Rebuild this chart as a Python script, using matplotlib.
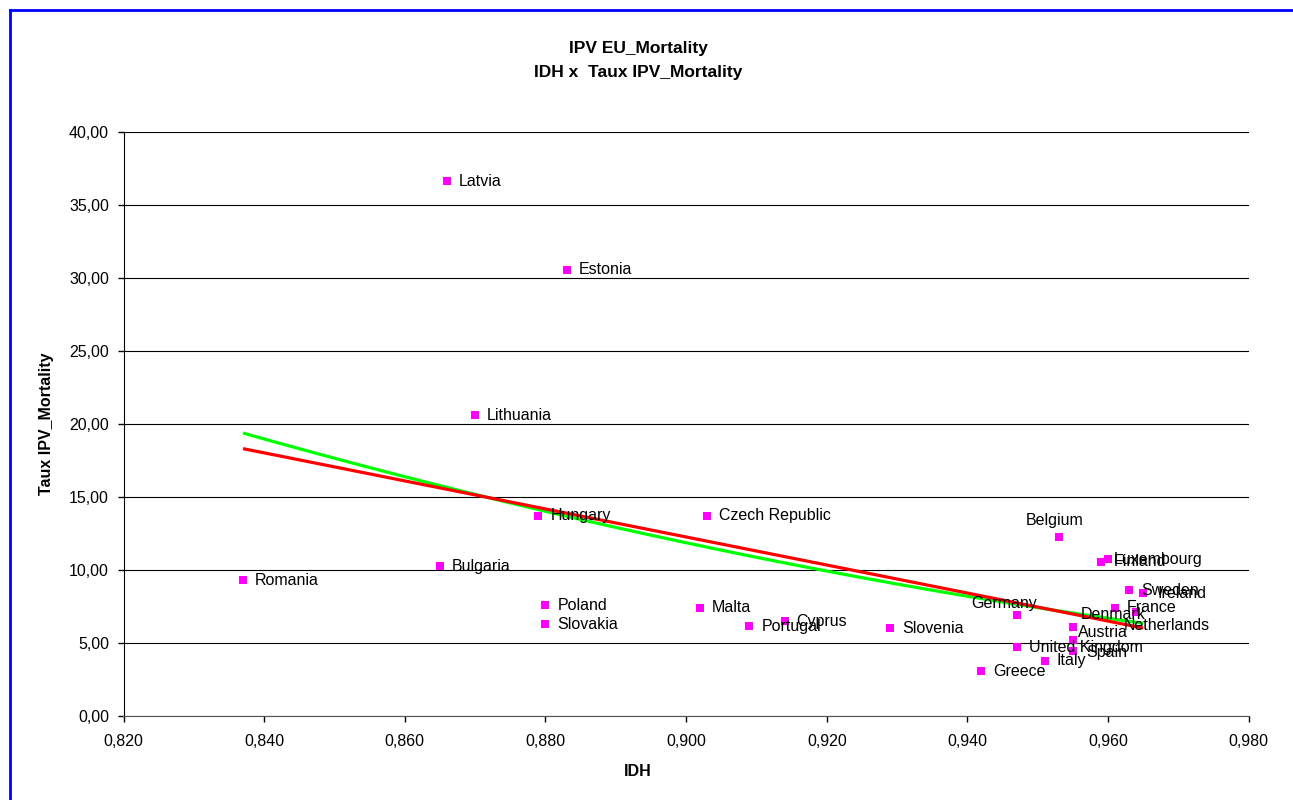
import numpy as np
import matplotlib
matplotlib.use("Agg")
import matplotlib.pyplot as plt
from matplotlib.ticker import FuncFormatter, MultipleLocator
from matplotlib.lines import Line2D

plt.rcParams['font.family'] = ['Liberation Sans', 'DejaVu Sans']

countries = ["Romania", "Bulgaria", "Latvia", "Lithuania", "Estonia", "Hungary",
             "Poland", "Slovakia", "Malta", "Czech Republic", "Portugal", "Cyprus",
             "Slovenia", "Greece", "Germany", "United Kingdom", "Italy", "Belgium",
             "Denmark", "Austria", "Spain", "Finland", "Luxembourg", "France",
             "Sweden", "Netherlands", "Ireland"]
idh = [0.837, 0.865, 0.866, 0.870, 0.883, 0.879,
       0.880, 0.880, 0.902, 0.903, 0.909, 0.914,
       0.929, 0.942, 0.947, 0.947, 0.951, 0.953,
       0.955, 0.955, 0.955, 0.959, 0.960, 0.961,
       0.963, 0.964, 0.965]
taux = [9.30, 10.27, 36.64, 20.60, 30.55, 13.70,
        7.60, 6.30, 7.40, 13.70, 6.16, 6.50,
        6.00, 3.08, 6.90, 4.70, 3.80, 12.26,
        6.10, 5.20, 4.45, 10.55, 10.75, 7.40,
        8.63, 7.10, 8.42]

title_lines = ["IPV EU_Mortality", "IDH x  Taux IPV_Mortality"]
x_title = "IDH"
y_title = "Taux IPV_Mortality"

# label placement (pixel offsets, styling only)
default_off = (12, 0, 'left')
label_off = {
    "Belgium": (-4, 17, 'center'),
    "Germany": (-13, 12, 'center'),
    "Denmark": (8, 12, 'left'),
    "Austria": (5, 8, 'left'),
    "Spain": (13, -1, 'left'),
    "Netherlands": (-12, -13, 'left'),
    "Luxembourg": (6, 0, 'left'),
    "Finland": (13, 0, 'left'),
    "Ireland": (14, 0, 'left'),
}

W, H = 1293, 800
fig = plt.figure(figsize=(W / 100, H / 100), dpi=100)
ax = fig.add_axes([123.5 / W, 1 - 716 / H, (1248.7 - 123.5) / W, (716 - 132) / H])

x = np.array(idh)
y = np.array(taux)
xs = np.linspace(x.min(), x.max(), 200)

# polynomial (order 2) trend (green)
ax.plot(xs, np.polyval(np.polyfit(x, y, 2), xs), color='#00FF00', lw=2.3, zorder=3,
        solid_capstyle='butt')
# linear trend (red)
ax.plot(xs, np.polyval(np.polyfit(x, y, 1), xs), color='#FF0000', lw=2.3, zorder=4,
        solid_capstyle='butt')

ax.scatter(x, y, marker='s', s=36, color='#FF00FF', zorder=5, linewidths=0)

for name, xi, yi in zip(countries, idh, taux):
    dx, dy, ha = label_off.get(name, default_off)
    ax.annotate(name, (xi, yi), xytext=(dx * 0.72, dy * 0.72), textcoords='offset points',
                ha=ha, va='center', fontsize=11.5, color='black', zorder=6)

ax.set_xlim(0.82, 0.98)
ax.set_ylim(0, 40)
ax.xaxis.set_major_locator(MultipleLocator(0.02))
ax.yaxis.set_major_locator(MultipleLocator(5))
ax.xaxis.set_major_formatter(FuncFormatter(lambda v, p: f"{v:.3f}".replace('.', ',')))
ax.yaxis.set_major_formatter(FuncFormatter(lambda v, p: f"{v:.2f}".replace('.', ',')))
ax.tick_params(axis='both', direction='out', length=4, width=1, labelsize=11.5, colors='black')
ax.tick_params(axis='y', pad=6.5)
ax.tick_params(axis='x', pad=9)
ax.grid(axis='y', color='black', lw=0.8)
ax.set_axisbelow(True)
for s in ['top', 'right']:
    ax.spines[s].set_visible(False)
ax.spines['left'].set_color('black')
ax.spines['bottom'].set_color('#555555')

fig.text(638 / W, 1 - 48 / H, title_lines[0], ha='center', va='center', fontsize=12.5, fontweight='bold')
fig.text(638 / W, 1 - 72 / H, title_lines[1], ha='center', va='center', fontsize=12.5, fontweight='bold')
fig.text(638 / W, 1 - 772 / H, x_title, ha='center', va='center', fontsize=11.5, fontweight='bold')
fig.text(47 / W, 1 - 424 / H, y_title, ha='center', va='center', rotation=90, fontsize=11.5, fontweight='bold')

# blue frame (top and left visible)
fig.add_artist(Line2D([10 / W, 1.0], [1 - 10 / H, 1 - 10 / H], color='#0000FF', lw=2, transform=fig.transFigure))
fig.add_artist(Line2D([10 / W, 10 / W], [0, 1 - 10 / H], color='#0000FF', lw=2, transform=fig.transFigure))

fig.savefig("out.png", dpi=100, facecolor='white')
